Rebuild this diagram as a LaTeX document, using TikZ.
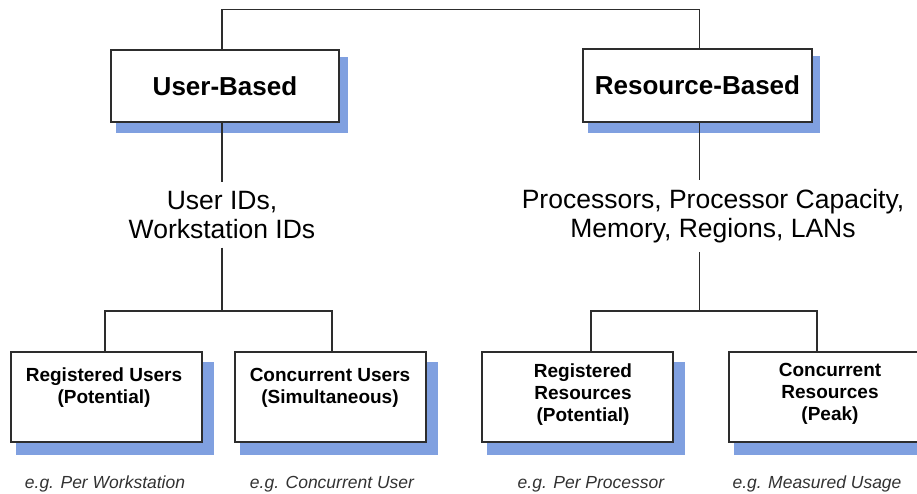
\documentclass[tikz,border=0pt]{standalone}
\usepackage{fontspec}
\setmainfont{Liberation Sans}
\usetikzlibrary{backgrounds}
\definecolor{shadowblue}{RGB}{128,160,224}
\definecolor{linegray}{RGB}{45,45,45}
\definecolor{notegray}{RGB}{50,50,50}
\begin{document}
\begin{tikzpicture}[x=1pt,y=-1pt,
  topbox/.style={draw=linegray, line width=1.3pt, fill=white, inner sep=0pt,
    minimum width=228pt, minimum height=72pt,
    font=\fontsize{26}{30}\selectfont\bfseries},
  lowbox/.style={draw=linegray, line width=1.3pt, fill=white, inner sep=0pt,
    minimum width=191pt, minimum height=90pt},
  boxtext/.style={font=\fontsize{19}{22}\selectfont\bfseries, align=center, inner sep=0pt},
  midtext/.style={font=\fontsize{26.5}{28.5}\selectfont, align=center, inner xsep=0pt, inner ysep=9pt},
  note/.style={font=\fontsize{17.5}{20}\selectfont\itshape, text=notegray, inner sep=0pt},
  conn/.style={draw=linegray, line width=1.3pt},
  shadowfill/.style={fill=shadowblue}
]
\useasboundingbox (0,0) rectangle (917,494);

% top boxes
\node[topbox] (ub) at (225,86) {User-Based};
\node[topbox, minimum width=229pt, minimum height=73pt] (rb) at (697.5,85.5) {Resource-Based};

% middle texts
\node[midtext] (uid) at (222,215) {User IDs,\\Workstation IDs};
\node[midtext] (rid) at (713,216) {Processors, Processor Capacity,\\Memory, Regions, LANs};

% lower boxes
\node[lowbox] (ru) at (106.5,397) {};
\node[lowbox] (cu) at (330.5,397) {};
\node[lowbox] (rr) at (577.5,397) {};
\node[lowbox] (cr) at (824.5,397) {};

\node[boxtext] (rut) at (104,388) {Registered Users\\(Potential)};
\node[boxtext] (cut) at (330,388) {Concurrent Users\\(Simultaneous)};
\node[boxtext] (rrt) at (583,395) {Registered\\Resources\\(Potential)};
\node[boxtext] (crt) at (830,394) {Concurrent\\Resources\\(Peak)};

% notes
\node[note] (n1) at (105,484) {e.g. Per Workstation};
\node[note] (n2) at (332,484) {e.g. Concurrent User};
\node[note] (n3) at (591,484) {e.g. Per Processor};
\node[note] (n4) at (817,484) {e.g. Measured Usage};

% shadows
\begin{scope}[on background layer]
  \fill[shadowfill] ([shift={(6,8)}]ub.north west) rectangle ([shift={(8,10)}]ub.south east);
  \fill[shadowfill] ([shift={(6,8)}]rb.north west) rectangle ([shift={(7,10)}]rb.south east);
  \foreach \b in {ru,cu,rr,cr}{
    \fill[shadowfill] ([shift={(6,11)}]\b.north west) rectangle ([shift={(11,12)}]\b.south east);
  }
\end{scope}

% connectors
\coordinate (ubtop) at ([xshift=-3]ub.north);
\coordinate (ubbot) at ([xshift=-3]ub.south);
\coordinate (rbtop) at ([xshift=2]rb.north);
\coordinate (rbbot) at ([xshift=2]rb.south);
\draw[conn] (ubtop) -- ++(0,-40) -| (rbtop);
\draw[conn] (ubbot) -- (ubbot |- uid.north);
\coordinate (uj) at (222,311);
\draw[conn] (uj |- uid.south) -- (uj);
\coordinate (rutop) at ([xshift=-1.5]ru.north);
\coordinate (cutop) at ([xshift=1.5]cu.north);
\draw[conn] (rutop) |- (uj) -| (cutop);

\draw[conn] (rbbot) -- (rbbot |- rid.north);
\coordinate (rj) at (699.5,311);
\draw[conn] (rj |- rid.south) -- (rj);
\coordinate (rrtop) at ([xshift=13.5]rr.north);
\coordinate (crtop) at ([xshift=-7.5]cr.north);
\draw[conn] (rrtop) |- (rj) -| (crtop);
\end{tikzpicture}
\end{document}
